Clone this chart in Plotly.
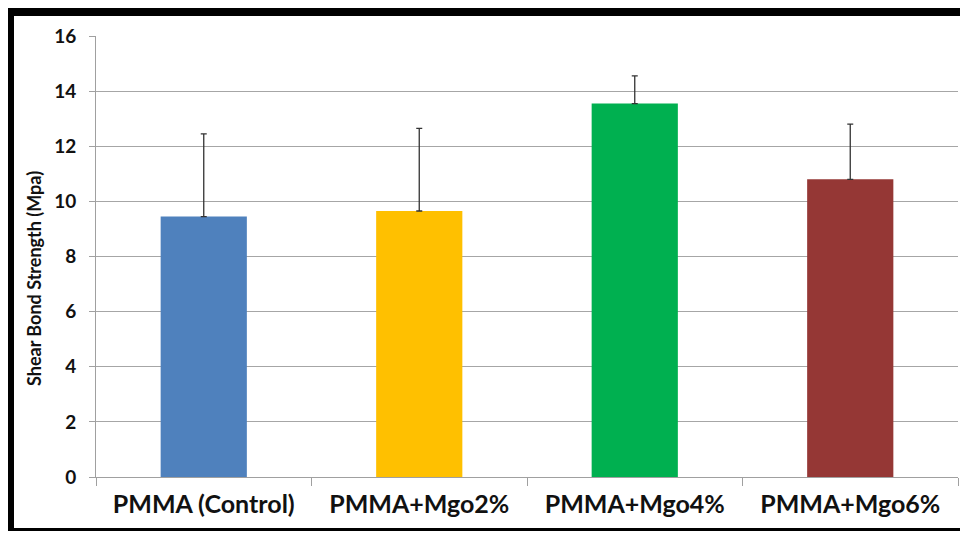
import plotly.graph_objects as go

categories = ["PMMA (Control)", "PMMA+Mgo2%", "PMMA+Mgo4%", "PMMA+Mgo6%"]
values = [9.45, 9.65, 13.55, 10.8]
errors_plus = [3.0, 3.0, 1.0, 2.0]
bar_colors = ["#4F81BD", "#FFC000", "#00B050", "#953735"]
y_ticks = [0, 2, 4, 6, 8, 10, 12, 14, 16]

OFF = 8  # page body margin
W, H = 952, 523
# plot area in page pixels: x 96..958, y 36..477
L, T = 96 - OFF, 36 - OFF
R = max(W - (958 - OFF), 0)
B = H - (477 - OFF)
pw, ph = W - L - R, H - T - B

def px_x(x):
    return (x - OFF - L) / pw

def px_y(y):
    return (H - B - (y - OFF)) / ph

frame = dict(color="black", width=8)

fig = go.Figure()
fig.add_trace(go.Bar(
    x=categories, y=values,
    marker=dict(color=bar_colors, line=dict(width=0)),
    width=0.4,
    error_y=dict(type="data", symmetric=False, array=errors_plus,
                 arrayminus=[0] * len(values),
                 color="#333333", thickness=1.3, width=3),
))

fig.update_layout(
    width=W, height=H,
    margin=dict(l=L, r=R, t=T, b=B),
    paper_bgcolor="white", plot_bgcolor="white",
    showlegend=False,
    font=dict(family="Lato, Carlito, sans-serif", color="#111111"),
    xaxis=dict(
        showgrid=False, showline=True, linecolor="#a0a0a0", linewidth=1,
        ticks="outside", tickson="boundaries", ticklen=8, tickcolor="#a0a0a0",
        tickfont=dict(size=25, family="Lato", weight="bold"),
        ticklabelstandoff=5,
    ),
    yaxis=dict(
        range=[0, 16], tickvals=y_ticks, showgrid=True, gridcolor="#a6a6a6",
        gridwidth=1, showline=True, linecolor="#a0a0a0", linewidth=1,
        ticks="outside", ticklen=6, tickcolor="#a0a0a0",
        tickfont=dict(size=19, family="Lato", weight="bold"),
        ticklabelstandoff=9, zeroline=False,
    ),
    annotations=[dict(
        text="<b>Shear Bond Strength (Mpa)</b>", textangle=-90,
        xref="paper", yref="paper", x=px_x(34), y=px_y(279),
        xanchor="center", yanchor="middle", showarrow=False,
        font=dict(size=18, family="Lato", color="#111111"),
    )],
    shapes=[
        dict(type="line", xref="paper", yref="paper", layer="above",
             x0=px_x(6), x1=px_x(975), y0=px_y(12), y1=px_y(12), line=frame),
        dict(type="line", xref="paper", yref="paper", layer="above",
             x0=px_x(10), x1=px_x(10), y0=px_y(8), y1=px_y(536), line=frame),
        dict(type="line", xref="paper", yref="paper", layer="above",
             x0=px_x(6), x1=px_x(975), y0=px_y(532), y1=px_y(532), line=frame),
    ],
)

fig.write_html("out.html")
